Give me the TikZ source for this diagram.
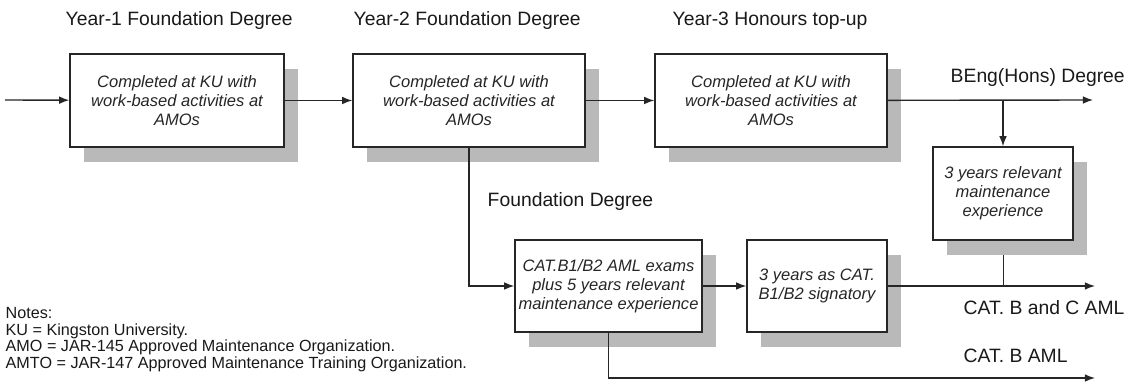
\documentclass[tikz,border=0pt]{standalone}
\usepackage{fontspec}
\setmainfont{Liberation Sans}
\usetikzlibrary{arrows.meta,shadows,backgrounds}

\begin{document}
\begin{tikzpicture}[x=0.02cm,y=-0.02cm,line width=0.8pt,
    stepbox/.style={draw=black!85,fill=white,inner sep=2pt,align=center,
      minimum height=1.86cm,text=black!85,
      font=\fontsize{9.4}{10.7}\selectfont\itshape,
      general shadow={fill=gray!55,shadow xshift=0.28cm,shadow yshift=-0.3cm}},
    label/.style={anchor=base west,inner sep=0pt,text=black!90,
      font=\fontsize{11}{13}\selectfont},
    arr/.style={draw=black!85,-{Latex[length=5.8pt,width=4.4pt]}}]
  \useasboundingbox (0,0) rectangle (1141,384);

  \node[stepbox,minimum width=4.28cm] (Y1) at (177,100.5)
    {Completed at KU with\\work-based activities at\\AMOs};
  \node[stepbox,minimum width=4.64cm] (Y2) at (469,100.5)
    {Completed at KU with\\work-based activities at\\AMOs};
  \node[stepbox,minimum width=4.64cm] (Y3) at (771,100.5)
    {Completed at KU with\\work-based activities at\\AMOs};
  \node[stepbox,minimum width=2.8cm] (EXP) at (1003,193.5)
    {3 years relevant\\maintenance\\experience};
  \node[stepbox,minimum width=3.74cm,minimum height=1.84cm] (AML) at (608.5,286)
    {CAT.B1/B2 AML exams\\plus 5 years relevant\\maintenance experience};
  \node[stepbox,minimum width=2.8cm,minimum height=1.84cm] (SIG) at (817,286)
    {3 years as CAT.\\B1/B2 signatory};

  \node[label] (L1) at (65,26) {Year-1 Foundation Degree};
  \node[label] (L2) at (353,26) {Year-2 Foundation Degree};
  \node[label] (L3) at (672,26) {Year-3 Honours top-up};
  \node[label] (LB) at (950,83) {BEng(Hons) Degree};
  \node[label] (LF) at (487,207) {Foundation Degree};
  \node[label] (LC) at (963,315) {CAT. B and C AML};
  \node[label] (LA) at (963,362) {CAT. B AML};

  \node[anchor=south west,inner sep=0pt,align=left,text=black!90,
    font=\fontsize{9.2}{9.4}\selectfont] (notes) at (5,372.5)
    {Notes:\\KU = Kingston University.\\
     AMO = JAR-145 Approved Maintenance Organization.\\
     AMTO = JAR-147 Approved Maintenance Training Organization.};

  \coordinate (in) at (5,100);
  \coordinate (beng) at (1093,100);
  \coordinate (jt) at (1003,100);
  \coordinate (jb) at (1003,286);
  \coordinate (cbc) at (1095,286);
  \coordinate (cb) at (1095,378);

  \draw[arr] (in) -- (Y1);
  \draw[arr] (Y1) -- (Y2);
  \draw[arr] (Y2) -- (Y3);
  \draw[arr] (Y3) -- (beng);
  \draw[arr] (jt) -- (EXP);
  \draw[arr] (Y2.south) |- (AML.west);
  \draw[arr] (AML) -- (SIG);
  \draw[arr] (SIG) -- (cbc);
  \draw[arr] (AML.south) |- (cb);
  \begin{pgfonlayer}{background}
    \draw[draw=black!85] (EXP) -- (jb);
  \end{pgfonlayer}

\end{tikzpicture}
\end{document}
